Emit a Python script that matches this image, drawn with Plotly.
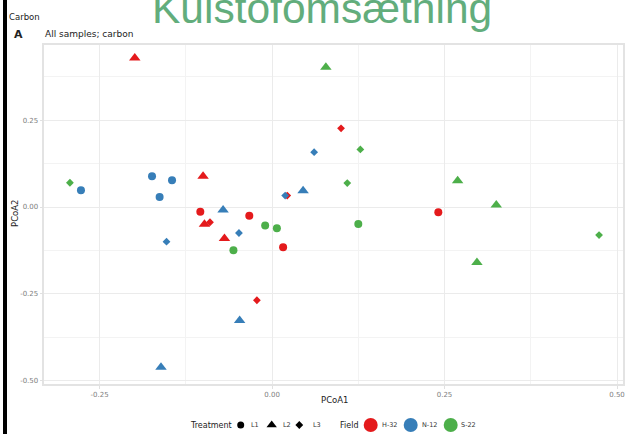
import plotly.graph_objects as go

W, H = 627, 434

# PCoA scores per sample
field = (["H-32"] * 12) + (["N-12"] * 12) + (["S-22"] * 12)
treatment = (["L1"] * 4 + ["L2"] * 4 + ["L3"] * 4) * 3
pcoa1 = [
    -0.104, -0.033, 0.016, 0.241,      # H-32 L1
    -0.199, -0.100, -0.098, -0.069,    # H-32 L2
    -0.090, 0.022, 0.100, -0.022,      # H-32 L3
    -0.277, -0.174, -0.145, -0.163,    # N-12 L1
    -0.161, -0.071, -0.047, 0.045,     # N-12 L2
    -0.153, -0.048, 0.019, 0.061,      # N-12 L3
    0.125, -0.010, 0.007, -0.056,      # S-22 L1
    0.078, 0.269, 0.325, 0.297,        # S-22 L2
    -0.293, 0.128, 0.109, 0.474,       # S-22 L3
]
pcoa2 = [
    -0.014, -0.025, -0.116, -0.015,
    0.430, 0.089, -0.050, -0.091,
    -0.044, 0.033, 0.227, -0.269,
    0.048, 0.089, 0.077, 0.029,
    -0.462, -0.009, -0.327, 0.047,
    -0.100, -0.075, 0.033, 0.158,
    -0.049, -0.053, -0.061, -0.125,
    0.403, 0.076, 0.006, -0.160,
    0.070, 0.166, 0.069, -0.081,
]

fields = ["H-32", "N-12", "S-22"]
field_colors = {"H-32": "#E41A1C", "N-12": "#377EB8", "S-22": "#4DAF4A"}
treatments = ["L1", "L2", "L3"]
symbols = {"L1": "circle", "L2": "triangle-up", "L3": "diamond"}
sizes = {"L1": 8, "L2": 10, "L3": 6}

x_ticks = [-0.25, 0.0, 0.25, 0.5]
y_ticks = [-0.5, -0.25, 0.0, 0.25]

# panel placement in pixels
left, right, top, bottom = 44.4, 623.0, 44.5, 384.0

fig = go.Figure()

for f in fields:
    for t in treatments:
        idx = [i for i in range(len(field)) if field[i] == f and treatment[i] == t]
        fig.add_trace(go.Scatter(
            x=[pcoa1[i] for i in idx], y=[pcoa2[i] for i in idx],
            mode="markers", showlegend=False,
            marker=dict(symbol=symbols[t], size=sizes[t], color=field_colors[f],
                        line=dict(width=0)),
            name=f"{f} {t}",
        ))

grid_col = "#ebebeb"
fig.update_layout(
    width=W, height=H,
    margin=dict(l=0, r=0, t=0, b=0),
    paper_bgcolor="white", plot_bgcolor="rgba(0,0,0,0)",
    font=dict(family="DejaVu Sans", color="#222"),
    xaxis=dict(
        domain=[left / W, right / W], range=[-0.330, 0.5087],
        tickvals=x_ticks, ticktext=[f"{v:.2f}" for v in x_ticks],
        tickfont=dict(size=7, color="#808080"),
        showgrid=True, gridcolor=grid_col, gridwidth=1,
        minor=dict(tickvals=[-0.125, 0.125, 0.375], showgrid=True,
                   gridcolor="#f3f3f3", gridwidth=1),
        zeroline=False, showline=True, mirror=True, linecolor="#e3e3e3", linewidth=1.5,
        ticks="outside", ticklen=3, tickcolor="#e0e0e0",
        automargin=False,
    ),
    yaxis=dict(
        domain=[1 - bottom / H, 1 - top / H], range=[-0.5105, 0.4687],
        tickvals=y_ticks, ticktext=[f"{v:.2f}" for v in y_ticks],
        tickfont=dict(size=7, color="#808080"),
        showgrid=True, gridcolor=grid_col, gridwidth=1,
        minor=dict(tickvals=[-0.375, -0.125, 0.125, 0.375], showgrid=True,
                   gridcolor="#f3f3f3", gridwidth=1),
        zeroline=False, showline=True, mirror=True, linecolor="#e3e3e3", linewidth=1.5,
        ticks="outside", ticklen=3, tickcolor="#e0e0e0",
        automargin=False,
    ),
    # pixel-space overlay used for the legend keys
    xaxis2=dict(domain=[0, 1], range=[0, W], visible=False, fixedrange=True, anchor="y2"),
    yaxis2=dict(domain=[0, 1], range=[H, 0], visible=False, fixedrange=True, anchor="x2"),
)

# legend keys
leg_y = 425
leg_keys = [
    (240.7, "circle", 7, "black"),
    (271.7, "triangle-up", 9, "black"),
    (299.3, "diamond", 6, "black"),
    (370.7, "circle", 14, field_colors["H-32"]),
    (410.7, "circle", 14, field_colors["N-12"]),
    (450.7, "circle", 14, field_colors["S-22"]),
]
for kx, sym, sz, col in leg_keys:
    fig.add_trace(go.Scatter(
        x=[kx], y=[leg_y], xaxis="x2", yaxis="y2", mode="markers",
        showlegend=False, hoverinfo="skip",
        marker=dict(symbol=sym, size=sz, color=col, line=dict(width=0)),
    ))

def label(x, y, text, size, color="#222", xanchor="left", textangle=0, **kw):
    fig.add_annotation(x=x / W, y=1 - y / H, xref="paper", yref="paper",
                       text=text, showarrow=False, xanchor=xanchor, yanchor="middle",
                       textangle=textangle, font=dict(size=size, color=color, **kw))

label(234, leg_y, "Treatment", 8, xanchor="right")
for tx, t in zip([255, 286.7, 316.7], treatments):
    label(tx, leg_y, t, 6.5, xanchor="center", color="#333")
label(349, leg_y, "Field", 8, xanchor="center")
for tx, f in zip([390, 430, 468.3], fields):
    label(tx, leg_y, f, 6.5, xanchor="center", color="#333")

# axis titles
label(334, 400, "PCoA1", 8.5, xanchor="center")
label(15, 214, "PCoA2", 8.5, xanchor="center", textangle=-90)

label(7, 17, "Carbon", 8.5)
label(12, 34, "<b>A</b>", 11, family="DejaVu Sans")
label(43, 34, "All samples; carbon", 9)
label(322, 8, "Kulstofomsætning", 42.5, color="#62ad7c", xanchor="center",
      family="Liberation Sans")

# left border bar
fig.add_shape(type="rect", xref="paper", yref="paper",
              x0=3 / W, x1=7 / W, y0=0, y1=1, fillcolor="black", line=dict(width=0))

fig.write_html("out.html")
